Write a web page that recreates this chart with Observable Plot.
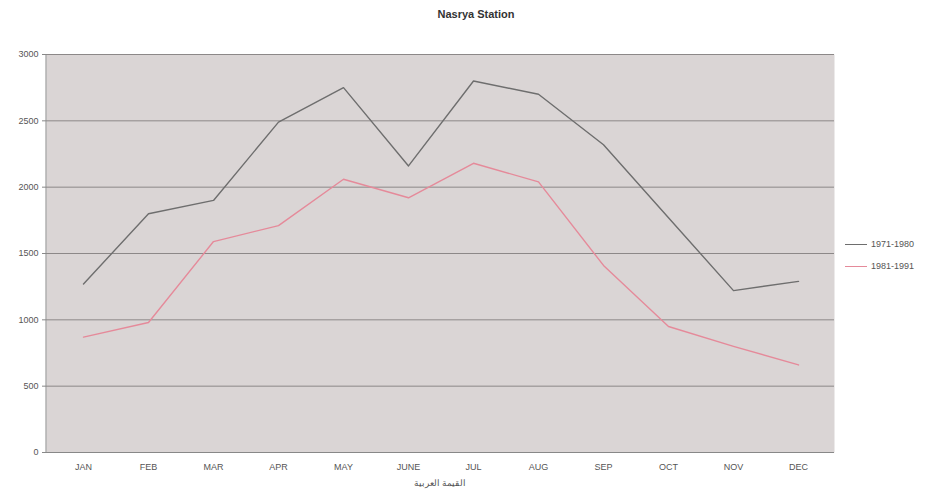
<!DOCTYPE html>
<html>
<head>
<meta charset="utf-8">
<script src="https://cdn.jsdelivr.net/npm/d3@7"></script>
<script src="https://cdn.jsdelivr.net/npm/@observablehq/plot@0.6"></script>
<style>
  body { margin: 0; background: #fff; font-family: "Liberation Sans", Arial, sans-serif; }
  #wrap { position: relative; width: 952px; height: 497px; }
  #title { position: absolute; left: 0; width: 952px; top: 8px; text-align: center; font-weight: bold; font-size: 11px; color: #333; }
  #legend { position: absolute; left: 845px; top: 233px; font-size: 9px; color: #555; line-height: 22px; }
  #legend .sw { display: inline-block; width: 22px; height: 0; border-top: 1px solid; vertical-align: middle; margin-right: 4px; }
  #xlabel { position: absolute; left: 340px; width: 200px; top: 478px; text-align: center; font-size: 9px; color: #555; }
</style>
</head>
<body>
<div id="wrap">
  <div id="title">Nasrya Station</div>
  <div id="chart"></div>
  <div id="legend"></div>
  <div id="xlabel" dir="rtl">القيمة العربية</div>
</div>
<script>
const months = ["JAN","FEB","MAR","APR","MAY","JUNE","JUL","AUG","SEP","OCT","NOV","DEC"];
const seriesNames = ["1971-1980", "1981-1991"];
const values1971 = [1270, 1800, 1900, 2490, 2750, 2160, 2800, 2700, 2320, 1770, 1220, 1290];
const values1981 = [870, 980, 1590, 1710, 2060, 1920, 2180, 2040, 1410, 950, 800, 660];
const yTicks = [0, 500, 1000, 1500, 2000, 2500, 3000];
const colors = ["#6e6e6e", "#e58a9a"];

const data = [];
months.forEach((m, i) => {
  data.push({month: m, value: values1971[i], series: seriesNames[0]});
  data.push({month: m, value: values1981[i], series: seriesNames[1]});
});

const chart = Plot.plot({
  width: 952,
  height: 497,
  marginTop: 54,
  marginBottom: 45,
  marginLeft: 46,
  marginRight: 118,
  style: {fontFamily: "Liberation Sans, Arial, sans-serif", fontSize: "9px", color: "#555", background: "transparent"},
  x: {type: "point", domain: months, padding: 0.5, label: null},
  y: {domain: [0, 3000], label: null},
  color: {domain: seriesNames, range: colors},
  marks: [
    Plot.frame({fill: "#dad5d5", stroke: null}),
    Plot.ruleY(yTicks.filter(d => d > 0), {stroke: "#8c8888", strokeWidth: 1}),
    Plot.ruleY([0], {stroke: "#888"}),
    Plot.axisY({ticks: yTicks, tickFormat: d3.format("d"), tickSize: 4, tickPadding: 4, stroke: "#888", fill: "#555"}),
    Plot.axisX({tickSize: 0, tickPadding: 11, fill: "#555"}),
    Plot.line(data, {x: "month", y: "value", z: "series", stroke: "series", strokeWidth: 1.4})
  ]
});
document.getElementById("chart").appendChild(chart);

// left axis line
d3.select(chart).append("line").attr("x1", 46).attr("x2", 46).attr("y1", 54).attr("y2", 452).attr("stroke", "#888");

const legend = document.getElementById("legend");
seriesNames.forEach((s, i) => {
  const row = document.createElement("div");
  row.innerHTML = `<span class="sw" style="border-color:${colors[i]}"></span>${s}`;
  legend.appendChild(row);
});
</script>
</body>
</html>
